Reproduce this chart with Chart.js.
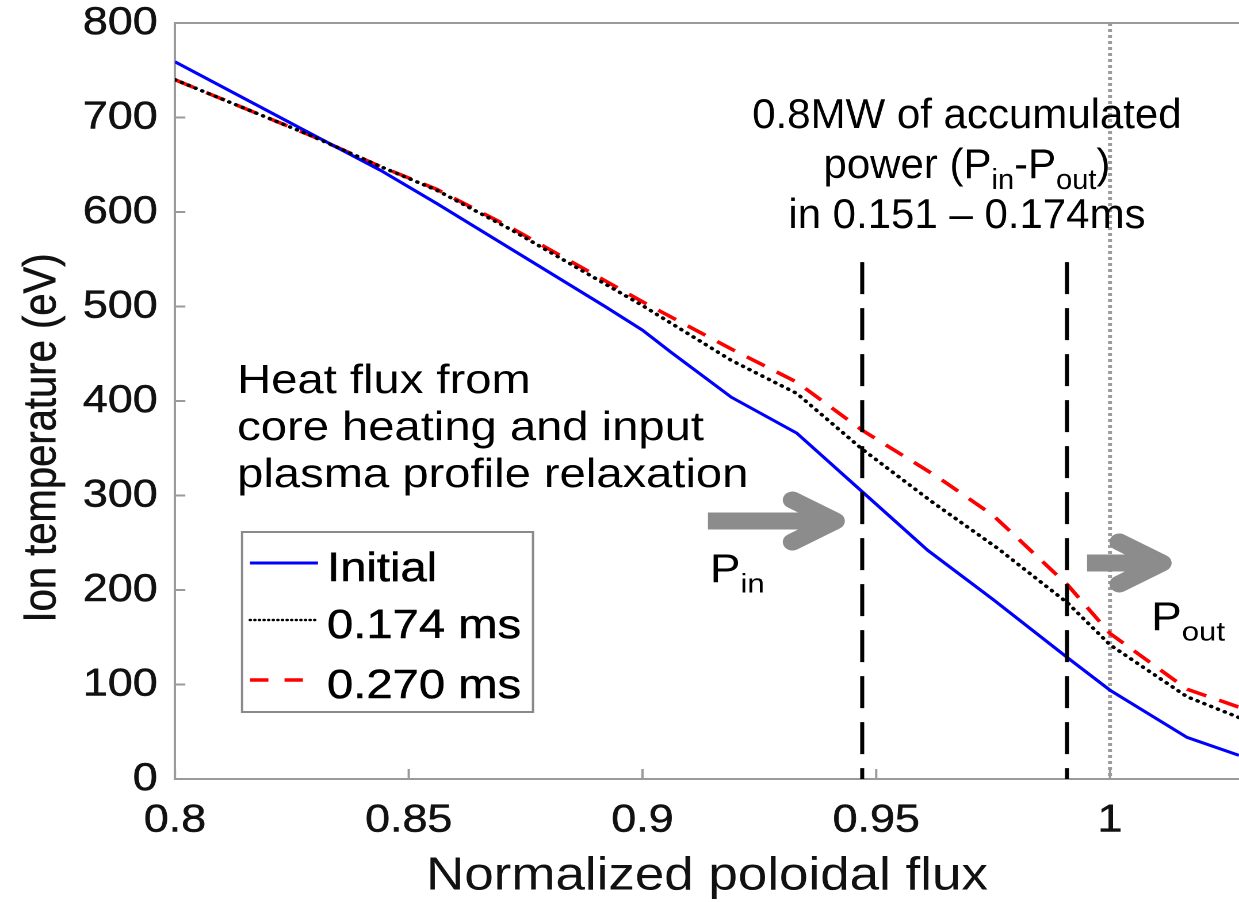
<!DOCTYPE html>
<html>
<head>
<meta charset="utf-8">
<title>Ion temperature profiles</title>
<script src="https://cdn.jsdelivr.net/npm/chart.js@4.4.1/dist/chart.umd.min.js"></script>
<style>
  html, body { margin: 0; padding: 0; background: #fff; }
  #wrap { width: 1239px; height: 902px; overflow: hidden; }
  /* the source figure is stretched sideways, so the canvas is too */
  #chart { transform: scaleX(1.15042); transform-origin: 0 0; }
</style>
</head>
<body>
<div id="wrap"><canvas id="chart" width="1077" height="902"></canvas></div>
<script>
// axis ticks
const xTicks = [0.8, 0.85, 0.9, 0.95, 1];
const yTicks = [0, 100, 200, 300, 400, 500, 600, 700, 800];

// Initial profile
const fluxInitial = [0.800, 0.829, 0.844, 0.856, 0.892, 0.900, 0.906, 0.919, 0.933, 0.947, 0.961, 0.975, 0.991, 1.000, 1.0165, 1.0276];
const tempInitial = [759, 683, 644, 609, 500, 475, 452, 404, 366, 304, 242, 190, 128, 94, 44, 25];

// 0.174 ms
const flux174 = [0.800, 0.829, 0.844, 0.856, 0.872, 0.900, 0.919, 0.933, 0.947, 0.962, 0.976, 0.991, 1.000, 1.0165, 1.0276];
const temp174 = [740, 681, 648, 623, 581, 501, 443, 408, 349, 293, 244, 186, 142, 87, 65];

// 0.270 ms
const flux270 = [0.800, 0.829, 0.844, 0.856, 0.872, 0.900, 0.919, 0.933, 0.947, 0.963, 0.975, 0.991, 1.000, 1.0165, 1.0276];
const temp270 = [740, 681, 648, 624, 583, 505, 455, 420, 369, 320, 279, 205, 154, 95, 76];

// marker lines
const windowFlux = [0.947, 0.9908];
const windowRange = [547, 0];
const separatrix = 1.0;

const STRETCH = 1239 / 1077;
const FONT = '"Liberation Sans", Arial, Helvetica, sans-serif';
const INK = '#111111';
const ARROW = '#8c8c8c';

const toXY = (xs, ys) => xs.map((x, i) => ({ x: x, y: ys[i] }));
const fontStr = size => size + 'px ' + FONT;

// draw text made of pieces, subscripts smaller and lowered
const drawRuns = (ctx, runs, x, y, size, align, squeeze) => {
    const subSize = Math.round(size * 0.68);
    const widths = runs.map(r => {
        ctx.font = fontStr(r.sub ? subSize : size);
        return ctx.measureText(r.t).width;
    });
    const total = widths.reduce((a, b) => a + b, 0);
    ctx.save();
    ctx.translate(x, y);
    ctx.scale(squeeze, 1);
    let cx = align === 'center' ? -total / 2 : 0;
    ctx.textAlign = 'left';
    ctx.textBaseline = 'alphabetic';
    ctx.fillStyle = '#000';
    runs.forEach((r, i) => {
        ctx.font = fontStr(r.sub ? subSize : size);
        ctx.fillText(r.t, cx, r.sub ? size * 0.26 : 0);
        cx += widths[i];
    });
    ctx.restore();
};

const drawArrow = (ctx, x0, x1, y) => {
    ctx.save();
    ctx.strokeStyle = ARROW;
    ctx.lineWidth = 17;
    ctx.lineCap = 'butt';
    ctx.beginPath();
    ctx.moveTo(x0, y);
    ctx.lineTo(x1 - 4, y);
    ctx.stroke();
    ctx.lineCap = 'round';
    ctx.lineJoin = 'round';
    ctx.beginPath();
    ctx.moveTo(x1 - 37, y - 21);
    ctx.lineTo(x1, y);
    ctx.lineTo(x1 - 37, y + 21);
    ctx.stroke();
    ctx.restore();
};

const annotations = {
    id: 'annotations',
    afterDraw(chart) {
        const { ctx, chartArea: a, scales: { x, y } } = chart;
        ctx.save();

        // top frame line and inward ticks
        ctx.strokeStyle = '#9a9a9a';
        ctx.lineWidth = 2;
        ctx.beginPath();
        ctx.moveTo(a.left, a.top);
        ctx.lineTo(a.right, a.top);
        yTicks.forEach(v => {
            const py = y.getPixelForValue(v);
            ctx.moveTo(a.left, py);
            ctx.lineTo(a.left + 9, py);
        });
        xTicks.forEach(v => {
            const px = x.getPixelForValue(v);
            ctx.moveTo(px, a.bottom);
            ctx.lineTo(px, a.bottom - 10);
        });
        ctx.stroke();

        // y axis title
        ctx.save();
        ctx.translate(48, 438);
        ctx.rotate(-Math.PI / 2);
        ctx.font = fontStr(40);
        ctx.fillStyle = INK;
        ctx.strokeStyle = INK;
        ctx.lineWidth = 0.5;
        ctx.textAlign = 'center';
        ctx.textBaseline = 'alphabetic';
        ctx.strokeText('Ion temperature (eV)', 0, 0);
        ctx.fillText('Ion temperature (eV)', 0, 0);
        ctx.restore();

        // accumulated power note
        const topX = x.getPixelForValue(0.9694);
        drawRuns(ctx, [{ t: '0.8MW of accumulated' }], topX, y.getPixelForValue(689), 42, 'center', 1 / STRETCH);
        drawRuns(ctx, [{ t: 'power (P' }, { t: 'in', sub: true }, { t: '-P' }, { t: 'out', sub: true }, { t: ')' }],
            topX, y.getPixelForValue(636), 42, 'center', 1 / STRETCH);
        drawRuns(ctx, [{ t: 'in 0.151 \u2013 0.174ms' }], topX, y.getPixelForValue(583), 42, 'center', 1 / STRETCH);

        // heat flux note
        const heatX = x.getPixelForValue(0.8133);
        drawRuns(ctx, [{ t: 'Heat flux from' }], heatX, y.getPixelForValue(408.5), 41, 'left', 1);
        drawRuns(ctx, [{ t: 'core heating and input' }], heatX, y.getPixelForValue(358.7), 41, 'left', 1);
        drawRuns(ctx, [{ t: 'plasma profile relaxation' }], heatX, y.getPixelForValue(309), 41, 'left', 1);

        // power arrows
        drawArrow(ctx, x.getPixelForValue(0.9140), x.getPixelForValue(0.9412), y.getPixelForValue(273));
        drawArrow(ctx, x.getPixelForValue(0.9951), x.getPixelForValue(1.0111), y.getPixelForValue(228.6));
        drawRuns(ctx, [{ t: 'P' }, { t: 'in', sub: true }], x.getPixelForValue(0.9144), y.getPixelForValue(208.5), 40, 'left', 1);
        drawRuns(ctx, [{ t: 'P' }, { t: 'out', sub: true }], x.getPixelForValue(1.0088), y.getPixelForValue(157.7), 40, 'left', 1);

        // legend box
        const lx = 210.4, ly = 532, lw = 252.9, lh = 180;
        ctx.fillStyle = '#fff';
        ctx.fillRect(lx, ly, lw, lh);
        ctx.strokeStyle = '#8a8a8a';
        ctx.lineWidth = 2;
        ctx.setLineDash([]);
        ctx.strokeRect(lx, ly, lw, lh);
        const rows = [
            { text: 'Initial', color: '#0000ff', width: 3, dash: [], cap: 'butt', y: 563 },
            { text: '0.174 ms', color: '#000', width: 2.5, dash: [0.5, 3.5], cap: 'round', y: 620 },
            { text: '0.270 ms', color: '#ff0000', width: 3.5, dash: [16, 14], cap: 'butt', y: 680 }
        ];
        rows.forEach(r => {
            ctx.strokeStyle = r.color;
            ctx.lineWidth = r.width;
            ctx.lineCap = r.cap;
            ctx.setLineDash(r.dash);
            ctx.beginPath();
            ctx.moveTo(217.3, r.y);
            ctx.lineTo(276.4, r.y);
            ctx.stroke();
            ctx.setLineDash([]);
            ctx.fillStyle = '#000';
            ctx.strokeStyle = '#000';
            ctx.lineWidth = 0.5;
            ctx.font = fontStr(41);
            ctx.textAlign = 'left';
            ctx.textBaseline = 'alphabetic';
            ctx.strokeText(r.text, 284.3, r.y + 18);
            ctx.fillText(r.text, 284.3, r.y + 18);
        });

        ctx.restore();
    }
};

const lineBase = { pointRadius: 0, tension: 0, fill: false };

// keep the plot box where the figure has it
const noEdgePadding = s => {
    s.paddingTop = 0;
    s.paddingBottom = 0;
    s.paddingLeft = 0;
    s.paddingRight = 0;
};

new Chart(document.getElementById('chart'), {
    type: 'line',
    data: {
        datasets: [
            Object.assign({ label: 'Initial', data: toXY(fluxInitial, tempInitial),
                borderColor: '#0000ff', borderWidth: 3, order: 1 }, lineBase),
            Object.assign({ label: '0.174 ms', data: toXY(flux174, temp174),
                borderColor: '#000000', borderWidth: 3.5, borderDash: [0.5, 6], borderCapStyle: 'round', order: 0 }, lineBase),
            Object.assign({ label: '0.270 ms', data: toXY(flux270, temp270),
                borderColor: '#ff0000', borderWidth: 3.5, borderDash: [18, 12], order: 2 }, lineBase),
            Object.assign({ label: 'separatrix', data: toXY([separatrix, separatrix], [800, 0]),
                borderColor: '#9c9c9c', borderWidth: 3.5, borderDash: [3, 3], order: 5 }, lineBase),
            Object.assign({ label: 'window start', data: toXY([windowFlux[0], windowFlux[0]], windowRange),
                borderColor: '#000000', borderWidth: 3.5, borderDash: [32, 14], order: -1 }, lineBase),
            Object.assign({ label: 'window end', data: toXY([windowFlux[1], windowFlux[1]], windowRange),
                borderColor: '#000000', borderWidth: 3.5, borderDash: [32, 14], order: -1 }, lineBase)
        ]
    },
    options: {
        responsive: false,
        devicePixelRatio: 2,
        animation: false,
        events: [],
        layout: { padding: { top: 23, right: 0, bottom: 0, left: 0 } },
        plugins: {
            legend: { display: false },
            tooltip: { enabled: false }
        },
        scales: {
            x: {
                type: 'linear',
                min: 0.8,
                max: 1.0276,
                afterBuildTicks: s => { s.ticks = xTicks.map(v => ({ value: v })); },
                afterFit: s => { s.height = 123; noEdgePadding(s); },
                ticks: {
                    callback: v => String(Math.round(v * 100) / 100),
                    font: { family: FONT, size: 39, lineHeight: 1 },
                    color: INK,
                    textStrokeColor: INK,
                    textStrokeWidth: 0.5,
                    padding: 22,
                    maxRotation: 0,
                    autoSkip: false
                },
                grid: { display: false, drawTicks: false },
                border: { display: true, color: '#9a9a9a', width: 2 },
                title: {
                    display: true,
                    text: 'Normalized poloidal flux',
                    font: { family: FONT, size: 46, lineHeight: 1 },
                    color: INK,
                    padding: { top: 0, bottom: 2 }
                }
            },
            y: {
                min: 0,
                max: 800,
                afterBuildTicks: s => { s.ticks = yTicks.map(v => ({ value: v })); },
                afterFit: s => { s.width = 152.1; noEdgePadding(s); },
                ticks: {
                    font: { family: FONT, size: 39, lineHeight: 1 },
                    color: INK,
                    textStrokeColor: INK,
                    textStrokeWidth: 0.5,
                    padding: 15
                },
                grid: { display: false, drawTicks: false },
                border: { display: true, color: '#9a9a9a', width: 2 }
            }
        }
    },
    plugins: [annotations]
});
</script>
</body>
</html>
